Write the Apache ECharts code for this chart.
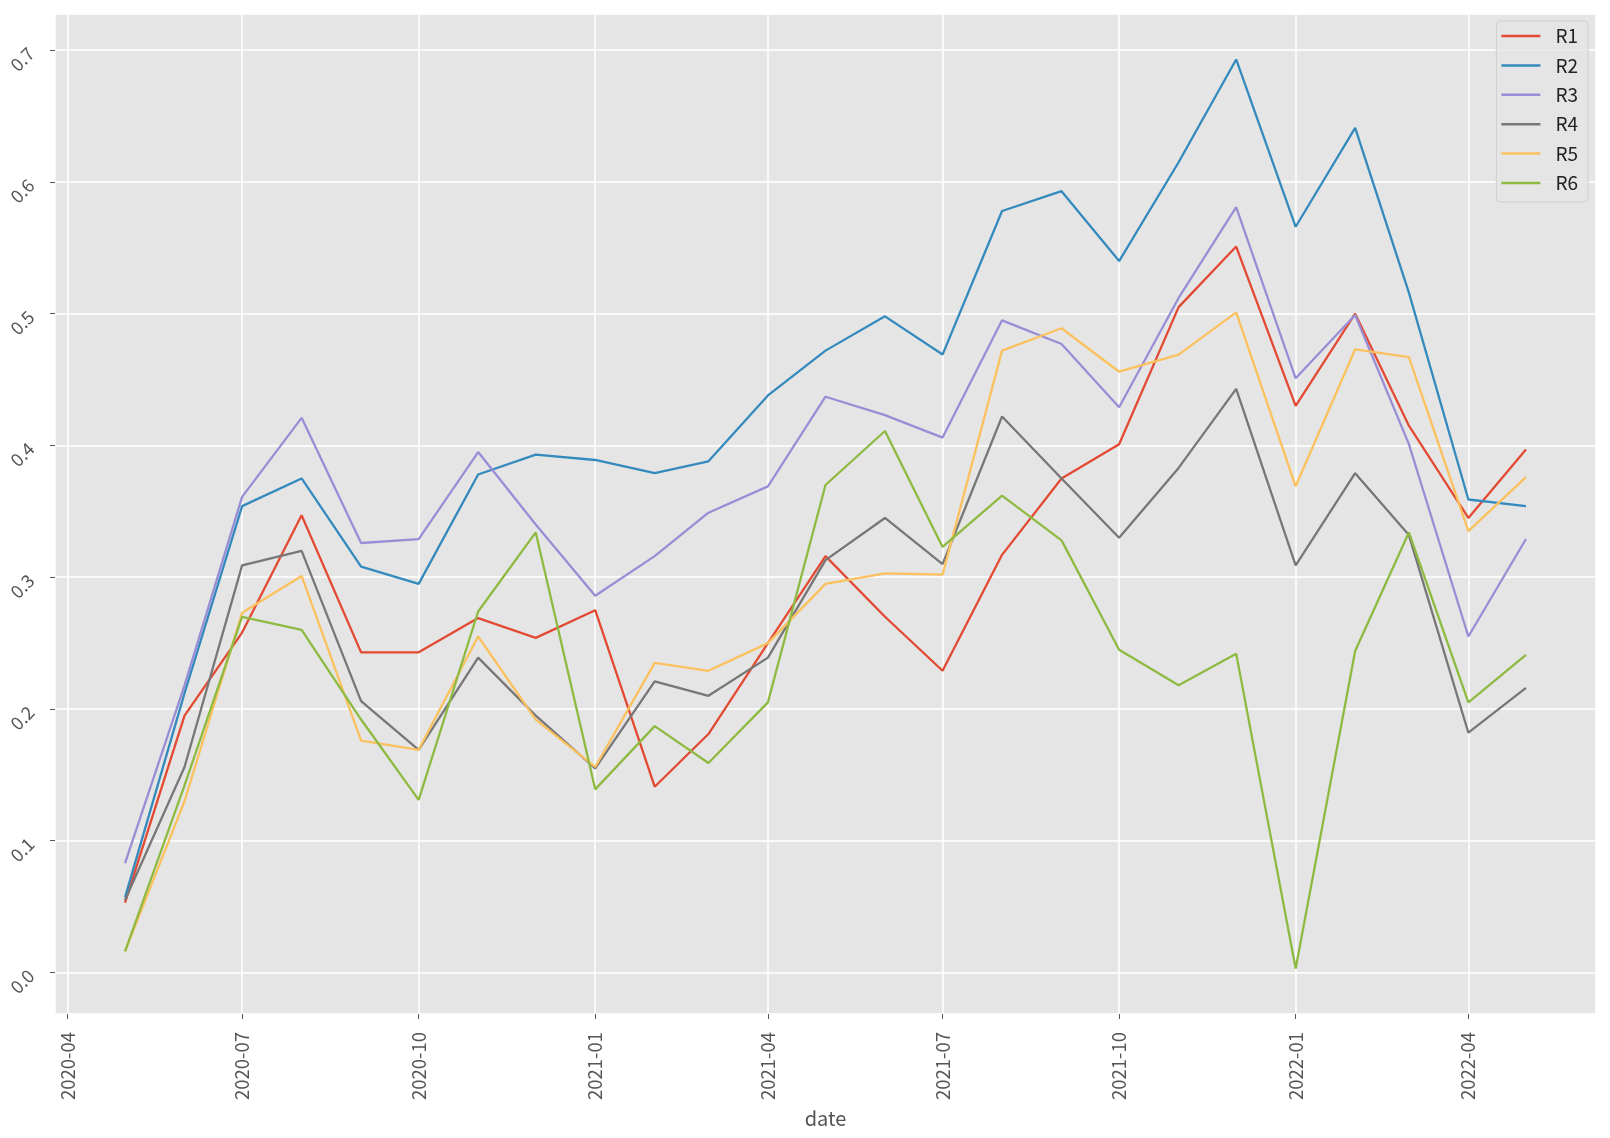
<!DOCTYPE html>
<html>
<head>
<meta charset="utf-8">
<script src="https://cdn.jsdelivr.net/npm/echarts@6/dist/echarts.min.js"></script>
<style>
html,body{margin:0;padding:0;background:#fff;}
#chart{width:1610px;height:1138px;}
</style>
</head>
<body>
<div id="chart"></div>
<script>
const dates = ['2020-05-01','2020-06-01','2020-07-01','2020-08-01','2020-09-01','2020-10-01','2020-11-01','2020-12-01',
  '2021-01-01','2021-02-01','2021-03-01','2021-04-01','2021-05-01','2021-06-01','2021-07-01','2021-08-01',
  '2021-09-01','2021-10-01','2021-11-01','2021-12-01','2022-01-01','2022-02-01','2022-03-01','2022-04-01','2022-05-01'];
const seriesNames = ['R1','R2','R3','R4','R5','R6'];
const R1 = [0.053,0.195,0.258,0.347,0.243,0.243,0.269,0.254,0.275,0.141,0.181,0.250,0.316,0.270,0.229,0.317,0.375,0.401,0.505,0.551,0.430,0.500,0.415,0.345,0.397];
const R2 = [0.057,0.212,0.354,0.375,0.308,0.295,0.378,0.393,0.389,0.379,0.388,0.438,0.472,0.498,0.469,0.578,0.593,0.540,0.615,0.693,0.566,0.641,0.516,0.359,0.354];
const R3 = [0.083,0.218,0.361,0.421,0.326,0.329,0.395,0.340,0.286,0.316,0.349,0.369,0.437,0.423,0.406,0.495,0.477,0.429,0.512,0.581,0.451,0.499,0.401,0.255,0.329];
const R4 = [0.055,0.156,0.309,0.320,0.206,0.169,0.239,0.195,0.155,0.221,0.210,0.239,0.313,0.345,0.310,0.422,0.375,0.330,0.383,0.443,0.309,0.379,0.332,0.182,0.216];
const R5 = [0.016,0.130,0.273,0.301,0.176,0.169,0.255,0.192,0.156,0.235,0.229,0.250,0.295,0.303,0.302,0.472,0.489,0.456,0.469,0.501,0.369,0.473,0.467,0.335,0.376];
const R6 = [0.016,0.142,0.270,0.260,0.192,0.131,0.274,0.334,0.139,0.187,0.159,0.205,0.370,0.411,0.323,0.362,0.328,0.245,0.218,0.242,0.003,0.244,0.334,0.205,0.241];
const seriesValues = [R1,R2,R3,R4,R5,R6];
const colors = ['#E24A33','#348ABD','#988ED5','#777777','#FBC15E','#8EBA42'];
const xMin = '2020-03-25 12:00:00';
const xMax = '2022-06-06 12:00:00';
const yMin = -0.0315;
const yMax = 0.7275;

const FONT = '"Noto Sans CJK JP", "Noto Sans", sans-serif';
const chart = echarts.init(document.getElementById('chart'), null, {renderer: 'canvas'});

const series = seriesNames.map((name, i) => ({
  name: name,
  type: 'line',
  data: dates.map((d, j) => [d, seriesValues[i][j]]),
  showSymbol: false,
  symbol: 'none',
  lineStyle: {width: 2.3, color: colors[i]},
  itemStyle: {color: colors[i]},
  emphasis: {disabled: true},
  animation: false
}));

chart.setOption({
  animation: false,
  color: colors,
  textStyle: {fontFamily: FONT},
  grid: {left: 55, right: 14, top: 14, bottom: 124, show: true, backgroundColor: '#E5E5E5', borderWidth: 0, containLabel: false},
  legend: {
    orient: 'vertical', right: 22, top: 21,
    data: seriesNames,
    icon: 'rect', itemWidth: 39, itemHeight: 2.5, itemGap: 9.4,
    padding: [5, 10, 9, 5],
    backgroundColor: 'rgba(229,229,229,0.8)', borderColor: '#cfcfcf', borderWidth: 1, borderRadius: 4,
    textStyle: {fontFamily: FONT, fontSize: 19, color: '#222', lineHeight: 20, padding: [0, 0, 0, 10]}
  },
  xAxis: {
    type: 'time', min: xMin, max: xMax,
    minInterval: 91 * 86400000, maxInterval: 91 * 86400000,
    name: 'date', nameLocation: 'middle', nameGap: 83,
    nameTextStyle: {fontFamily: FONT, fontSize: 20, color: '#555555'},
    axisLine: {show: false, onZero: false},
    axisTick: {show: true, length: 5, lineStyle: {color: '#555555', width: 1}},
    axisLabel: {
      rotate: 90, margin: 18, fontFamily: FONT, fontSize: 18.5, color: '#555555',
      showMinLabel: false, showMaxLabel: false,
      formatter: function (v) { return echarts.time.format(v, '{yyyy}-{MM}', false); }
    },
    splitLine: {show: true, lineStyle: {color: '#ffffff', width: 1.5}}
  },
  yAxis: {
    type: 'value', min: yMin, max: yMax, splitNumber: 7,
    axisLine: {show: false, onZero: false},
    axisTick: {show: true, length: 5, lineStyle: {color: '#555555', width: 1}},
    axisLabel: {
      rotate: 45, margin: 24, fontFamily: FONT, fontSize: 18, color: '#555555',
      showMinLabel: false, showMaxLabel: false,
      formatter: function (v) { return v.toFixed(1); }
    },
    splitLine: {show: true, lineStyle: {color: '#ffffff', width: 1.5}}
  },
  series: series
});
</script>
</body>
</html>
